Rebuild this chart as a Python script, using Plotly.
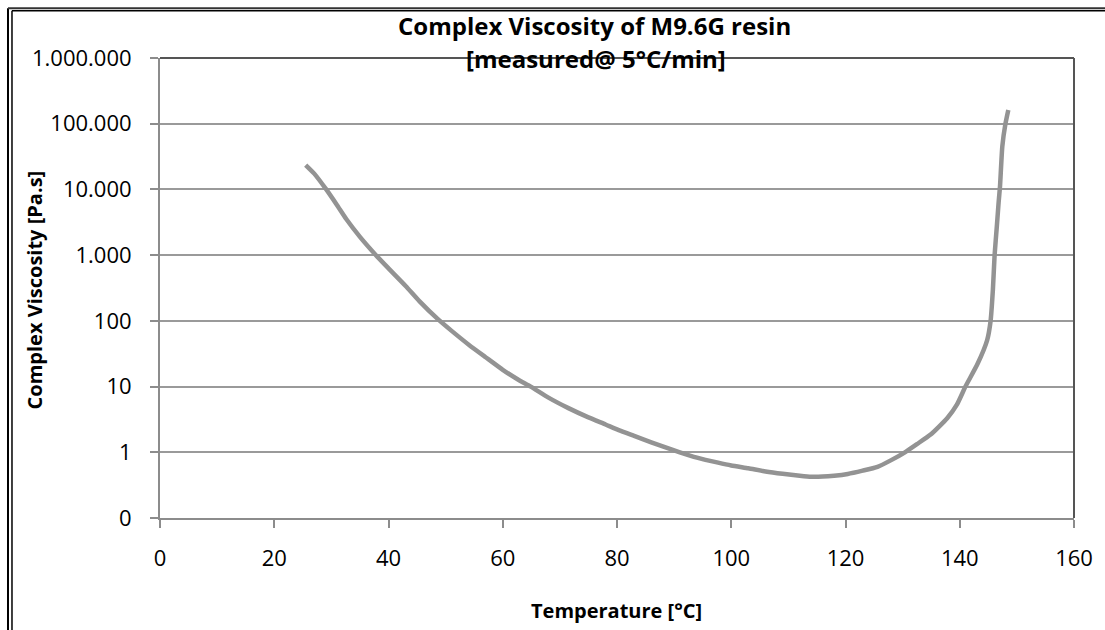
import plotly.graph_objects as go

# Data
temperature_c = [25.5, 27, 29.1, 31, 32.6, 35, 37.8, 40, 43, 45.4, 48.6, 51, 54.1, 57, 60,
                 62.8, 64.9, 68, 71.5, 75, 78, 80.3, 83, 86, 88, 91, 94, 97.7, 100, 103,
                 106, 109, 112, 114, 116, 118, 120.4, 123, 125.6, 128, 130.4, 132.5, 134.9,
                 137.8, 139.5, 141, 143.1, 144.8, 145.4, 145.8, 146.1, 146.5, 146.8, 147.05,
                 147.45, 148.0, 148.5]
viscosity_pas = [23500, 17400, 10000, 5750, 3550, 1900, 1000, 630, 340, 200, 107, 71, 43, 28, 18,
                 12.6, 10, 6.8, 4.7, 3.4, 2.65, 2.18, 1.78, 1.42, 1.23, 1.0, 0.83, 0.695, 0.63, 0.57,
                 0.51, 0.47, 0.44, 0.425, 0.427, 0.44, 0.468, 0.525, 0.60, 0.76, 1.0, 1.33, 1.86,
                 3.3, 5.3, 10, 22, 51, 100, 295, 1000, 2800, 6300, 11200,
                 45000, 100000, 162000]

y_tickvals = [0.1, 1, 10, 100, 1000, 10000, 100000, 1000000]
y_ticktext = ["0", "1", "10", "100", "1.000", "10.000", "100.000", "1.000.000"]
x_tickvals = [0, 20, 40, 60, 80, 100, 120, 140, 160]

W, H = 1105, 630
ML, MR, MT, MB = 160, 28, 58, 112
PW, PH = W - ML - MR, H - MT - MB


def px(x):
    return (x - ML) / PW


def py(y):
    return (H - MB - y) / PH


FONT = "Open Sans"
GRID = "#9a9a9a"
AXIS = "#8c8c8c"

fig = go.Figure()
fig.add_trace(go.Scatter(
    x=temperature_c, y=viscosity_pas, mode="lines",
    line=dict(color="#939393", width=4.5, shape="spline", smoothing=0.5), showlegend=False,
))

fig.update_layout(
    width=W, height=H,
    margin=dict(l=ML, r=MR, t=MT, b=MB),
    paper_bgcolor="white", plot_bgcolor="white",
    font=dict(family=FONT, color="#000000"),
    xaxis=dict(
        range=[0, 160], tickvals=x_tickvals, showgrid=False, zeroline=False,
        showline=True, linecolor=AXIS, linewidth=2,
        ticks="outside", ticklen=8, tickwidth=2, tickcolor=AXIS,
        tickfont=dict(family=FONT, size=22, color="#000"), ticklabelstandoff=12,
    ),
    yaxis=dict(
        type="log", range=[-1, 6], tickvals=y_tickvals, ticktext=y_ticktext,
        showgrid=True, gridcolor=GRID, gridwidth=1.5, zeroline=False,
        showline=True, linecolor=AXIS, linewidth=2,
        ticks="outside", ticklen=8, tickwidth=2, tickcolor=AXIS,
        tickfont=dict(family=FONT, size=22, color="#000"), ticklabelstandoff=14,
    ),
)

shapes = [
    # darker top and right border of the plot area
    dict(type="line", xref="x domain", yref="y domain", x0=0, x1=1, y0=1, y1=1,
         line=dict(color="#555555", width=2)),
    dict(type="line", xref="x domain", yref="y domain", x0=1, x1=1, y0=0, y1=1,
         line=dict(color="#555555", width=2)),
    # outer double frame (left and top)
    dict(type="line", xref="paper", yref="paper", x0=px(7.5), x1=px(7.5), y0=py(8.3), y1=py(H + 5),
         line=dict(color="#000000", width=2)),
    dict(type="line", xref="paper", yref="paper", x0=px(11.5), x1=px(11.5), y0=py(10.8), y1=py(H + 5),
         line=dict(color="#000000", width=1.5)),
    dict(type="line", xref="paper", yref="paper", x0=px(7.5), x1=px(W + 5), y0=py(8.3), y1=py(8.3),
         line=dict(color="#333333", width=2)),
    dict(type="line", xref="paper", yref="paper", x0=px(11.5), x1=px(W + 5), y0=py(10.8), y1=py(10.8),
         line=dict(color="#000000", width=1.5)),
]
fig.update_layout(shapes=shapes)

annotations = [
    dict(text="<b>Complex Viscosity of M9.6G resin</b>", x=px(596), y=py(25), xref="paper", yref="paper",
         showarrow=False, xanchor="center", yanchor="middle", font=dict(family=FONT, size=24, color="#000")),
    dict(text="<b>[measured@ 5°C/min]</b>", x=px(597), y=py(59), xref="paper", yref="paper",
         showarrow=False, xanchor="center", yanchor="middle", font=dict(family=FONT, size=24, color="#000")),
    dict(text="<b>Temperature [°C]</b>", x=px(618), y=py(610), xref="paper", yref="paper",
         showarrow=False, xanchor="center", yanchor="middle", font=dict(family=FONT, size=20, color="#000")),
    dict(text="<b>Complex Viscosity [Pa.s]</b>", x=px(34), y=py(290), xref="paper", yref="paper",
         showarrow=False, xanchor="center", yanchor="middle", textangle=-90,
         font=dict(family=FONT, size=20, color="#000")),
]
fig.update_layout(annotations=annotations)

fig.write_html("out.html", config={"displayModeBar": False},
               post_script="document.body.style.margin='0';")
